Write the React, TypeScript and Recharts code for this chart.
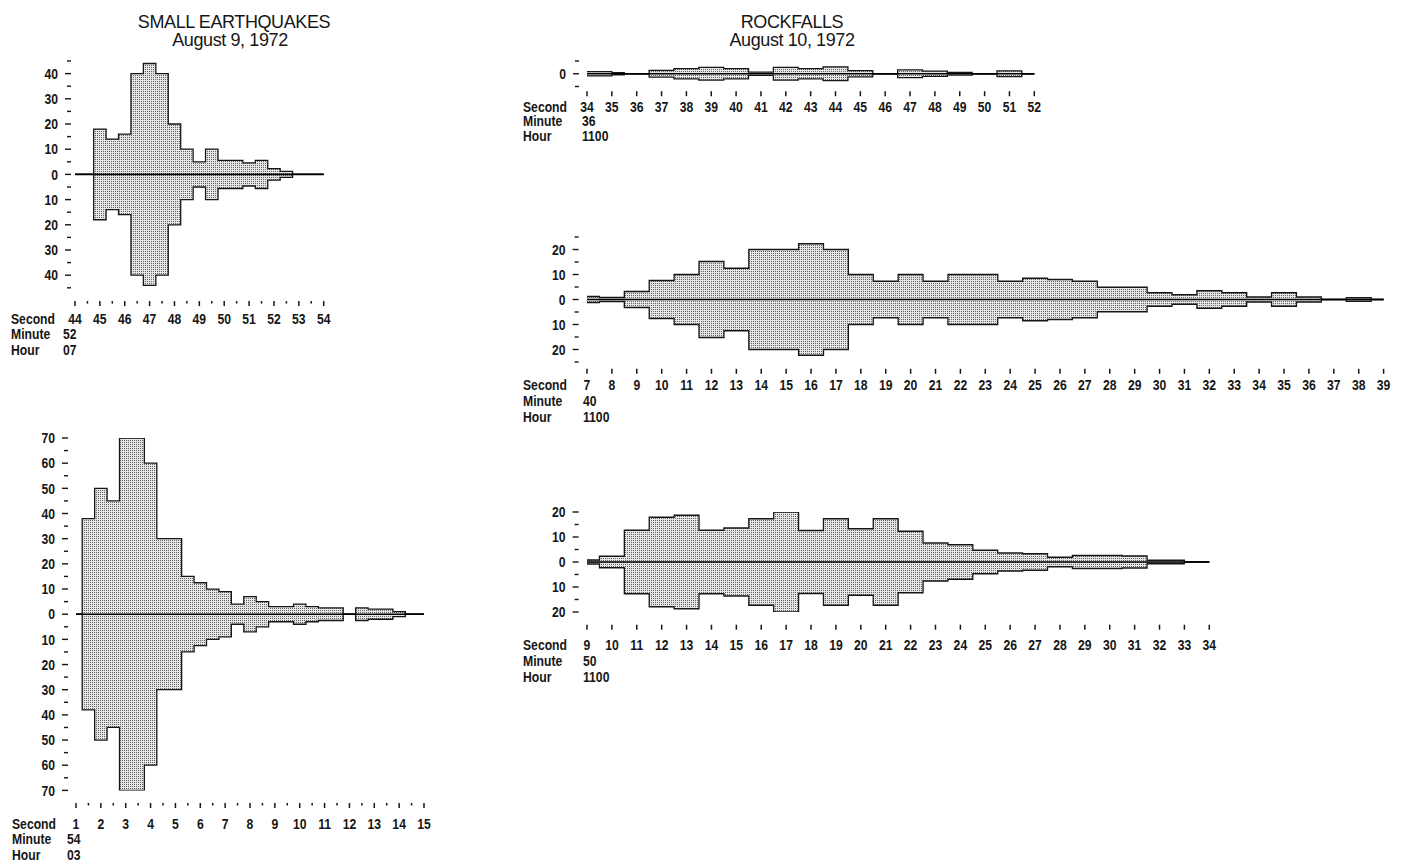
import React from "react";
import { AreaChart, Area, XAxis, YAxis, ReferenceLine } from "recharts";

// SMALL EARTHQUAKES, August 9, 1972 - hour 07, minute 52
const quakeA_seconds = [44, 44.75, 45.25, 45.75, 46.25, 46.75, 47.25, 47.75, 48.25, 48.75, 49.25, 49.75, 50.25, 50.75, 51.25, 51.75, 52.25, 52.75, 54];
const quakeA_amp = [0, 18, 14, 16, 40, 44, 40, 20, 10, 5, 10, 5.6, 5.6, 4.6, 5.6, 2.3, 1.2, 0, 0];

// SMALL EARTHQUAKES, August 9, 1972 - hour 03, minute 54
const quakeB_seconds = [1, 1.25, 1.75, 2.25, 2.75, 3.75, 4.25, 5.25, 5.75, 6.25, 6.75, 7.25, 7.75, 8.25, 8.75, 9.75, 10.25, 10.75, 11.75, 12.25, 12.75, 13.75, 14.25, 15];
const quakeB_amp = [0, 38, 50, 45, 70, 60, 30, 15, 12.5, 10, 9, 4, 7, 5, 3, 4, 3, 2.5, 0, 2.5, 2, 1, 0, 0];

// ROCKFALLS, August 10, 1972 - hour 1100, minute 36
const rockA_seconds = [34, 35, 35.5, 36.5, 37.5, 38.5, 39.5, 40.5, 41.5, 42.5, 43.5, 44.5, 45.5, 46.5, 47.5, 48.5, 49.5, 50.5, 51.5, 52];
const rockA_amp = [0.8, 0.4, 0, 1.3, 2, 2.5, 2, 0.6, 2.5, 2, 2.7, 1.2, 0, 1.5, 1, 0.5, 0, 1.1, 0, 0];

// ROCKFALLS - hour 1100, minute 40
const rockB_seconds = [7, 7.5, 8.5, 9.5, 10.5, 11.5, 12.5, 13.5, 15.5, 16.5, 17.5, 18.5, 19.5, 20.5, 21.5, 23.5, 24.5, 25.5, 26.5, 27.5, 29.5, 30.5, 31.5, 32.5, 33.5, 34.5, 35.5, 36.5, 37.5, 38.5, 39];
const rockB_amp = [1.2, 0.8, 3.2, 7.6, 10, 15.2, 12.5, 20, 22.3, 20, 10, 7.3, 10, 7.3, 10, 7.3, 8.5, 8, 7.3, 4.9, 2.7, 1.9, 3.5, 2.7, 1, 2.7, 1, 0, 0.7, 0, 0];

// ROCKFALLS - hour 1100, minute 50
const rockC_seconds = [9, 9.5, 10.5, 11.5, 12.5, 13.5, 14.5, 15.5, 16.5, 17.5, 18.5, 19.5, 20.5, 21.5, 22.5, 23.5, 24.5, 25.5, 26.5, 27.5, 28.5, 29.5, 30.5, 31.5, 33, 34];
const rockC_amp = [0.8, 2.3, 12.7, 17.9, 18.7, 12.7, 13.6, 17.3, 20, 12.6, 17.3, 13.3, 17.3, 12.3, 7.6, 6.9, 4.7, 3.6, 3.3, 1.9, 2.6, 2.6, 2.4, 0.7, 0, 0];

const range = (a: number, b: number, step: number) => {
  const out: number[] = [];
  for (let v = a; v <= b + 1e-9; v += step) out.push(Math.round(v * 100) / 100);
  return out;
};

// no condensed face is installed, so squeeze Liberation Sans Bold horizontally
const TICK_FONT = "'Liberation Sans', Arial, sans-serif";
const TICK_SIZE = 14.5;
const SQUEEZE = 0.84;
const INK = "#161616";

const AXIS_W = 80;
const PAD_T = 14;
const PAD_R = 10;
const AXIS_H = 80;

type PanelCfg = {
  id: string;
  seconds: number[];
  amp: number[];
  xDomain: [number, number];
  yDomain: [number, number];
  xTicks: number[];
  yTicks: number[];
  minute: string;
  hour: string;
  left: number;
  right: number;
  top: number;
  bottom: number;
  yGap: number;
  tickTop: number;
  labelBase: number;
  rowGap: number;
  valueDx: number;
};

function Narrow({ x, y, anchor = "start", dy, children }: any) {
  return (
    <text
      transform={`translate(${x},${y}) scale(${SQUEEZE},1)`}
      x={0}
      y={0}
      dy={dy}
      textAnchor={anchor}
      fontFamily={TICK_FONT}
      fontWeight="bold"
      fontSize={TICK_SIZE}
      fill={INK}
    >
      {children}
    </text>
  );
}

function YTick(props: any) {
  const { x, y, payload, gap } = props;
  const v = payload.value as number;
  const major = v % 10 === 0;
  const end = x - gap;
  return (
    <g>
      <line x1={major ? end - 6 : end - 4} x2={end} y1={y} y2={y} stroke={INK} strokeWidth={1.4} />
      {major && (
        <Narrow x={end - 13} y={y} dy="0.36em" anchor="end">
          {Math.abs(v)}
        </Narrow>
      )}
    </g>
  );
}

function XTick(props: any) {
  const { x, y, payload, index, cfg } = props;
  const c = cfg as PanelCfg;
  const v = payload.value as number;
  const major = Number.isInteger(v);
  const t = y + c.tickTop;
  const base = y + c.labelBase;
  return (
    <g>
      <line x1={x} x2={x} y1={t} y2={t + (major ? 5 : 2.5)} stroke={INK} strokeWidth={1.5} />
      {major && (
        <Narrow x={x} y={base} anchor="middle">
          {v}
        </Narrow>
      )}
      {index === 0 && (
        <>
          <Narrow x={x - 64} y={base}>Second</Narrow>
          <Narrow x={x - 64} y={base + c.rowGap}>Minute</Narrow>
          <Narrow x={x - 64} y={base + c.rowGap * 2}>Hour</Narrow>
          <Narrow x={x + c.valueDx} y={base + c.rowGap}>{c.minute}</Narrow>
          <Narrow x={x + c.valueDx} y={base + c.rowGap * 2}>{c.hour}</Narrow>
        </>
      )}
    </g>
  );
}

function Panel({ cfg }: { cfg: PanelCfg }) {
  const data = cfg.seconds.map((s, i) => ({ s, up: cfg.amp[i], down: -cfg.amp[i] }));
  const plotW = cfg.right - cfg.left;
  const plotH = cfg.bottom - cfg.top;
  const pat = `stip-${cfg.id}`;
  return (
    <div style={{ position: "absolute", left: cfg.left - AXIS_W, top: cfg.top - PAD_T }}>
      <AreaChart
        width={AXIS_W + plotW + PAD_R}
        height={PAD_T + plotH + AXIS_H}
        data={data}
        margin={{ top: PAD_T, right: PAD_R, left: 0, bottom: 0 }}
      >
        <defs>
          <pattern id={pat} width="2" height="2" patternUnits="userSpaceOnUse">
            <rect width="2" height="2" fill="#e6e6e6" />
            <rect width="1" height="1" fill="#626262" />
          </pattern>
        </defs>
        <XAxis
          dataKey="s"
          type="number"
          domain={cfg.xDomain}
          ticks={cfg.xTicks}
          interval={0}
          height={AXIS_H}
          axisLine={false}
          tickLine={false}
          tickSize={0}
          tickMargin={0}
          tick={(p: any) => <XTick {...p} cfg={cfg} />}
        />
        <YAxis
          type="number"
          domain={cfg.yDomain}
          ticks={cfg.yTicks}
          interval={0}
          width={AXIS_W}
          axisLine={false}
          tickLine={false}
          tickSize={0}
          tickMargin={0}
          allowDataOverflow
          tick={(p: any) => <YTick {...p} gap={cfg.yGap} />}
        />
        <Area
          dataKey="up"
          type="stepAfter"
          baseValue={0}
          stroke={INK}
          strokeWidth={1.3}
          fill={`url(#${pat})`}
          fillOpacity={1}
          dot={false}
          activeDot={false}
          isAnimationActive={false}
        />
        <Area
          dataKey="down"
          type="stepAfter"
          baseValue={0}
          stroke={INK}
          strokeWidth={1.3}
          fill={`url(#${pat})`}
          fillOpacity={1}
          dot={false}
          activeDot={false}
          isAnimationActive={false}
        />
        <ReferenceLine y={0} stroke="#000" strokeWidth={1.6} />
      </AreaChart>
    </div>
  );
}

const panels: PanelCfg[] = [
  {
    id: "qa", seconds: quakeA_seconds, amp: quakeA_amp, xDomain: [44, 54], yDomain: [-45, 45],
    xTicks: range(44, 54, 0.5), yTicks: range(-45, 45, 5), minute: "52", hour: "07",
    left: 75.3, right: 324, top: 60.6, bottom: 287.4, yGap: 4, tickTop: 13.3, labelBase: 35.8, rowGap: 15.8, valueDx: -12,
  },
  {
    id: "qb", seconds: quakeB_seconds, amp: quakeB_amp, xDomain: [1, 15], yDomain: [-70, 70],
    xTicks: range(1, 15, 0.5), yTicks: range(-70, 70, 5), minute: "54", hour: "03",
    left: 76, right: 424, top: 438.3, bottom: 790.7, yGap: 8, tickTop: 12.6, labelBase: 38.6, rowGap: 15.5, valueDx: -9,
  },
  {
    id: "ra", seconds: rockA_seconds, amp: rockA_amp, xDomain: [34, 52], yDomain: [-5, 5],
    xTicks: range(34, 52, 1), yTicks: [-5, 0, 5], minute: "36", hour: "1100",
    left: 586.7, right: 1034, top: 60.8, bottom: 86.3, yGap: 8, tickTop: 4.7, labelBase: 25.7, rowGap: 14.3, valueDx: -5,
  },
  {
    id: "rb", seconds: rockB_seconds, amp: rockB_amp, xDomain: [7, 39], yDomain: [-25, 25],
    xTicks: range(7, 39, 1), yTicks: range(-25, 25, 5), minute: "40", hour: "1100",
    left: 586.7, right: 1383.3, top: 236.5, bottom: 361.5, yGap: 8.4, tickTop: 6.8, labelBase: 27.8, rowGap: 16, valueDx: -4,
  },
  {
    id: "rc", seconds: rockC_seconds, amp: rockC_amp, xDomain: [9, 34], yDomain: [-20, 20],
    xTicks: range(9, 34, 1), yTicks: range(-20, 20, 5), minute: "50", hour: "1100",
    left: 586.7, right: 1209, top: 512.3, bottom: 612.3, yGap: 8.4, tickTop: 12.7, labelBase: 37.7, rowGap: 16, valueDx: -4,
  },
];

const TITLE_FONT = "'Liberation Sans', Arial, sans-serif";

export default function App() {
  return (
    <div style={{ position: "absolute", left: 0, top: 0, width: 1407, height: 864, background: "#fff" }}>
      <svg width={1407} height={864} style={{ position: "absolute", left: 0, top: 0 }}>
        <g fontFamily={TITLE_FONT} fontSize={18} fill={INK} textAnchor="middle" letterSpacing={-0.4}>
          <text x={234} y={28}>SMALL EARTHQUAKES</text>
          <text x={230} y={45.5}>August 9, 1972</text>
          <text x={792} y={28}>ROCKFALLS</text>
          <text x={792} y={45.5}>August 10, 1972</text>
        </g>
      </svg>
      {panels.map((p) => (
        <Panel key={p.id} cfg={p} />
      ))}
    </div>
  );
}
